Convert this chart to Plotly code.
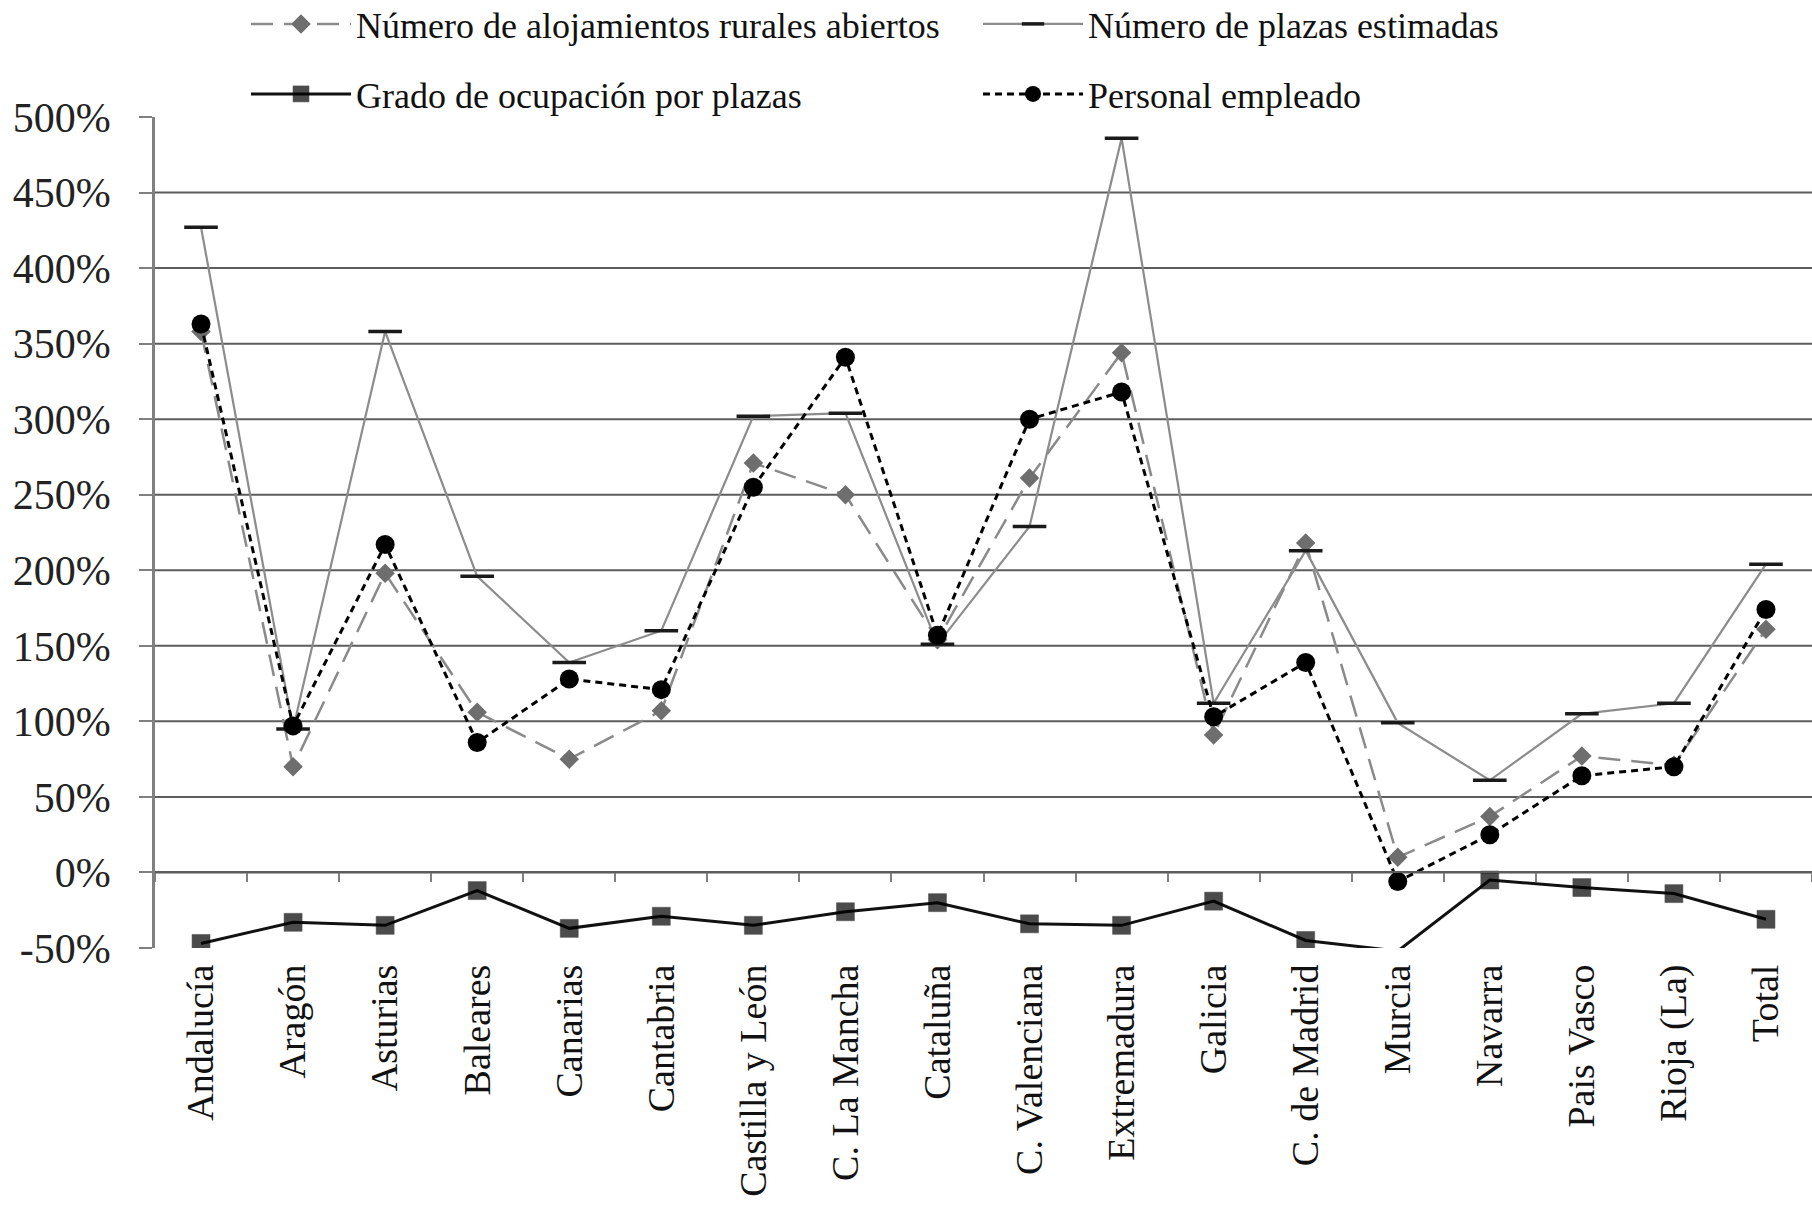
import plotly.graph_objects as go

categories = ["Andalucía", "Aragón", "Asturias", "Baleares", "Canarias", "Cantabria",
              "Castilla y León", "C. La Mancha", "Cataluña", "C. Valenciana", "Extremadura",
              "Galicia", "C. de Madrid", "Murcia", "Navarra", "Pais Vasco", "Rioja (La)", "Total"]

alojamientos = [358, 70, 198, 106, 75, 107, 271, 250, 154, 261, 344, 91, 218, 10, 37, 77, 71, 161]
plazas = [427, 95, 358, 196, 139, 160, 302, 304, 151, 229, 486, 112, 213, 99, 61, 105, 112, 204]
grado = [-47, -33, -35, -12, -37, -29, -35, -26, -20, -34, -35, -19, -45, -52, -5, -10, -14, -31]
personal = [363, 97, 217, 86, 128, 121, 255, 341, 157, 300, 318, 103, 139, -6, 25, 64, 70, 174]

y_ticks = list(range(-50, 501, 50))
y_ticktext = [f"{v}%" for v in y_ticks]
grid_vals = [v for v in y_ticks if -50 < v < 500]

Y_MIN, Y_MAX = -50, 500
SERIF = "Liberation Serif"

fig = go.Figure()

fig.add_trace(go.Scatter(
    x=categories, y=alojamientos, name="Número de alojamientos rurales abiertos",
    mode="lines+markers", legend="legend",
    line=dict(color="#8a8a8a", width=2.5, dash="22px,11px"),
    marker=dict(symbol="diamond", size=15, color="#6e6e6e"),
))
fig.add_trace(go.Scatter(
    x=categories, y=plazas, name="Número de plazas estimadas",
    mode="lines+markers", legend="legend",
    line=dict(color="#8c8c8c", width=2.2),
    marker=dict(symbol="line-ew", size=24, line=dict(width=3.5, color="#1a1a1a")),
))
grado_sizes = [0 if v < Y_MIN else 18 for v in grado]
fig.add_trace(go.Scatter(
    x=categories, y=grado, name="Grado de ocupación por plazas",
    mode="lines+markers", legend="legend2", xaxis="x2",
    line=dict(color="#111111", width=3),
    marker=dict(symbol="square", size=grado_sizes, color="#000000",
                line=dict(width=0.5, color="#000000")),
))
fig.add_trace(go.Scatter(
    x=categories, y=personal, name="Personal empleado",
    mode="lines+markers", legend="legend2", xaxis="x2",
    line=dict(color="#000000", width=3, dash="7px,5px"),
    marker=dict(symbol="circle", size=19, color="#000000"),
))

for v in grid_vals:
    fig.add_shape(type="line", xref="paper", yref="y", x0=0, x1=1, y0=v, y1=v,
                  line=dict(color="#5c5c5c", width=2), layer="below")

zero_pos = (0 - Y_MIN) / (Y_MAX - Y_MIN)

legend_common = dict(
    orientation="h", xref="container", yref="container", xanchor="left", yanchor="middle",
    font=dict(family=SERIF, size=36, color="#111111"),
    itemwidth=100, entrywidthmode="pixels", entrywidth=617,
    bgcolor="rgba(0,0,0,0)", borderwidth=0, traceorder="normal",
    itemclick=False, itemdoubleclick=False,
)

W, H = 1812, 1207
fig.update_layout(
    width=W, height=H,
    margin=dict(l=155, r=0, t=117, b=259, autoexpand=False),
    paper_bgcolor="white", plot_bgcolor="white",
    showlegend=True,
    legend=dict(**legend_common, x=246 / W, y=1 - 24 / H),
    legend2=dict(**legend_common, x=246 / W, y=1 - 94 / H),
    xaxis=dict(
        type="category", categoryorder="array", categoryarray=categories,
        range=[-0.5, len(categories) - 0.5],
        showgrid=False, showline=False, zeroline=False, ticks="",
        tickangle=-90, ticklabelstandoff=8,
        tickfont=dict(family=SERIF, size=38, color="#111111"),
    ),
    xaxis2=dict(
        type="category", categoryorder="array", categoryarray=categories,
        range=[-0.5, len(categories) - 0.5],
        overlaying="x", anchor="free", position=zero_pos,
        showgrid=False, zeroline=False, showticklabels=False,
        showline=True, linecolor="#5c5c5c", linewidth=2,
        ticks="outside", tickson="boundaries", ticklen=9, tickwidth=1.5, tickcolor="#808080",
    ),
    yaxis=dict(
        range=[Y_MIN, Y_MAX], tickvals=y_ticks, ticktext=y_ticktext,
        showgrid=False, zeroline=False,
        showline=True, linecolor="#808080", linewidth=2.5,
        ticks="outside", ticklen=13, tickwidth=2, tickcolor="#808080",
        ticklabelstandoff=20,
        tickfont=dict(family=SERIF, size=42, color="#222222"),
    ),
)

fig.write_html("out.html",
               config={"displayModeBar": False},
               post_script="document.body.style.margin='0px';document.body.style.overflow='hidden';")
